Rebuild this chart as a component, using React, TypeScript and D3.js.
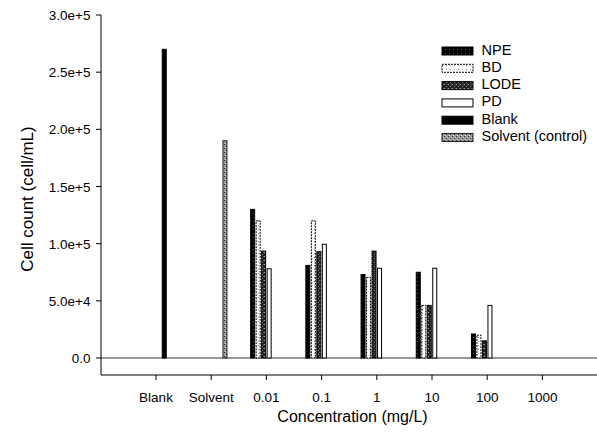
import React from "react";
import * as d3 from "d3";

const categories = ["Blank", "Solvent", "0.01", "0.1", "1", "10", "100", "1000"];
const seriesNames = ["NPE", "BD", "LODE", "PD", "Blank", "Solvent (control)"];
// values per series, aligned with categories (null = no bar)
const npe = [null, null, 130000, 81000, 73000, 75000, 21000, null];
const bd = [null, null, 120000, 120000, 70500, 46000, 20000, null];
const lode = [null, null, 93500, 93000, 93500, 46000, 15000, null];
const pd = [null, null, 78000, 99500, 78500, 78500, 46000, null];
const blank = [270000, null, null, null, null, null, null, null];
const solvent = [null, 190000, null, null, null, null, null, null];
const seriesValues = [npe, bd, lode, pd, blank, solvent];
const yTicks = [0, 50000, 100000, 150000, 200000, 250000, 300000];
const yTickLabels = ["0.0", "5.0e+4", "1.0e+5", "1.5e+5", "2.0e+5", "2.5e+5", "3.0e+5"];

const W = 597;
const H = 436;
const axisX = 101;
const baseY = 358;
const xAxisY = 375;

export default function App() {
  const y = d3.scaleLinear().domain([0, 300000]).range([baseY, 15]);
  const x = d3.scaleBand<string>().domain(categories).range([128.4, 128.4 + 55.2 * 8]).padding(0);
  const inner = d3.scaleBand<string>().domain(seriesNames).range([-16.5, 16.5]).padding(0);
  const barW = 4;

  const fills = ["url(#pNPE)", "url(#pBD)", "url(#pLODE)", "#ffffff", "#000000", "url(#pSolv)"];
  const strokes = ["#000", "#000", "#000", "#000", "#000", "#222"];
  const dashes = [undefined, "2,1", undefined, undefined, undefined, undefined];

  const font = "'Liberation Sans', Arial, sans-serif";

  return (
    <svg width={W} height={H} style={{ position: "absolute", left: 0, top: 0, background: "#fff" }}>
      <defs>
        <pattern id="pNPE" width="4" height="4" patternUnits="userSpaceOnUse">
          <rect width="4" height="4" fill="#000" />
          <rect x="1" y="1" width="1" height="1" fill="#555" />
        </pattern>
        <pattern id="pBD" width="4" height="4" patternUnits="userSpaceOnUse">
          <rect width="4" height="4" fill="#fff" />
          <rect x="2" y="1" width="1" height="1" fill="#999" />
        </pattern>
        <pattern id="pLODE" width="4" height="4" patternUnits="userSpaceOnUse">
          <rect width="4" height="4" fill="#222" />
          <rect x="0" y="0" width="1" height="1" fill="#aaa" />
          <rect x="2" y="2" width="1" height="1" fill="#888" />
          <rect x="3" y="0" width="1" height="1" fill="#666" />
        </pattern>
        <pattern id="pSolv" width="4" height="4" patternUnits="userSpaceOnUse">
          <rect width="4" height="4" fill="#9a9a9a" />
          <rect x="0" y="0" width="1" height="1" fill="#333" />
          <rect x="2" y="2" width="1" height="1" fill="#333" />
          <rect x="1" y="3" width="1" height="1" fill="#ddd" />
          <rect x="3" y="1" width="1" height="1" fill="#ddd" />
        </pattern>
      </defs>

      {/* baseline at zero */}
      <line x1={axisX} x2={W} y1={y(0)} y2={y(0)} stroke="#333" strokeWidth={1.2} />

      {/* bars */}
      {seriesValues.map((vals, si) =>
        vals.map((v, ci) => {
          if (v === null) return null;
          const cx = (x(categories[ci]) as number) + x.bandwidth() / 2 + (inner(seriesNames[si]) as number) + inner.bandwidth() / 2;
          return (
            <rect
              key={`${si}-${ci}`}
              x={cx - barW / 2}
              y={y(v)}
              width={barW}
              height={y(0) - y(v)}
              fill={fills[si]}
              stroke={strokes[si]}
              strokeWidth={1}
              strokeDasharray={dashes[si]}
            />
          );
        })
      )}

      {/* y axis */}
      <line x1={axisX} x2={axisX} y1={15} y2={xAxisY} stroke="#000" strokeWidth={1} />
      {yTicks.map((t, i) => (
        <g key={t}>
          <line x1={axisX - 5} x2={axisX} y1={y(t)} y2={y(t)} stroke="#000" />
          <text x={90.5} y={y(t) + 5} textAnchor="end" fontFamily={font} fontSize={13.5} fill="#000">
            {yTickLabels[i]}
          </text>
        </g>
      ))}
      <text
        transform={`translate(33,${199}) rotate(-90)`}
        textAnchor="middle"
        fontFamily={font}
        fontSize={17}
        fill="#000"
      >
        Cell count (cell/mL)
      </text>

      {/* x axis */}
      <line x1={axisX} x2={W} y1={xAxisY} y2={xAxisY} stroke="#000" strokeWidth={1} />
      {categories.map((c) => {
        const cx = (x(c) as number) + x.bandwidth() / 2;
        return (
          <g key={c}>
            <line x1={cx} x2={cx} y1={xAxisY} y2={xAxisY + 5} stroke="#000" />
            <text x={cx} y={401.5} textAnchor="middle" fontFamily={font} fontSize={13.5} fill="#000">
              {c}
            </text>
          </g>
        );
      })}
      <text x={352.5} y={422} textAnchor="middle" fontFamily={font} fontSize={16} fill="#000">
        Concentration (mg/L)
      </text>

      {/* legend */}
      {seriesNames.map((s, i) => {
        const ly = 51 + i * 17.3;
        return (
          <g key={s}>
            <rect
              x={442}
              y={ly - 4}
              width={31}
              height={8}
              fill={fills[i]}
              stroke={strokes[i]}
              strokeWidth={1}
              strokeDasharray={dashes[i]}
            />
            <text x={481.5} y={ly + 3.5} fontFamily={font} fontSize={14.5} fill="#000">
              {s}
            </text>
          </g>
        );
      })}
    </svg>
  );
}
